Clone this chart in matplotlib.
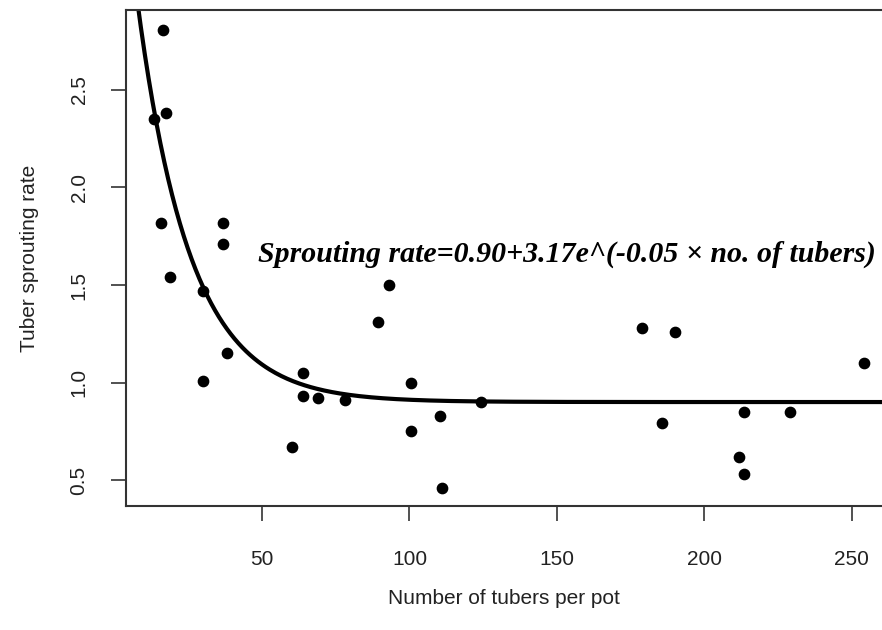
import numpy as np
import matplotlib.pyplot as plt

# number of tubers per pot vs sprouting rate
tubers = [16.4, 17.5, 13.4, 15.8, 36.8, 36.8, 18.8, 30.0, 30.0, 38.0,
          63.8, 63.8, 69.1, 78.2, 60.1, 89.2, 93.1, 100.4, 100.4, 110.3,
          110.9, 124.1, 178.7, 189.9, 185.6, 213.5, 229.0, 211.6, 213.5, 254.0]
rate = [2.81, 2.38, 2.35, 1.82, 1.82, 1.71, 1.54, 1.47, 1.01, 1.15,
        1.05, 0.93, 0.92, 0.91, 0.67, 1.31, 1.50, 1.00, 0.75, 0.83,
        0.46, 0.90, 1.28, 1.26, 0.79, 0.85, 0.85, 0.62, 0.53, 1.10]

# fitted curve parameters
a, b, k = 0.90, 3.17, 0.056
label = "Sprouting rate=0.90+3.17e^(-0.05 \u00d7 no. of tubers)"

fig = plt.figure(figsize=(8.82, 6.3), dpi=100)
ax = fig.add_axes([126/882, 1-506/630, 1-126/882, (506-10)/630])

xs = np.linspace(1, 265, 400)
ax.plot(xs, a + b*np.exp(-k*xs), color='black', lw=3.0)
ax.scatter(tubers, rate, s=55, color='black', zorder=3)

ax.set_xlim(3.9, 260.2)
ax.set_ylim(0.367, 2.91)
ax.set_xticks([50, 100, 150, 200, 250])
ax.set_yticks([0.5, 1.0, 1.5, 2.0, 2.5])

for s in ['left', 'bottom', 'top']:
    ax.spines[s].set_linewidth(1.5)
    ax.spines[s].set_color('#333333')
ax.spines['right'].set_visible(False)

ax.tick_params(length=11, width=1.2, color='#333333', labelsize=15)
ax.tick_params(axis='x', pad=21)
ax.tick_params(axis='y', pad=16)
for t in ax.get_xticklabels() + ax.get_yticklabels():
    t.set_family('Liberation Sans')
    t.set_color('#222222')
for t in ax.get_yticklabels():
    t.set_rotation(90)
    t.set_va('center')

ax.set_xlabel("Number of tubers per pot", family='Liberation Sans', fontsize=15,
              color='#222222', labelpad=14)
ax.set_ylabel("Tuber sprouting rate", family='Liberation Sans', fontsize=15,
              color='#222222', labelpad=22)

ax.text(48.5, 1.655, label, family='Liberation Serif', fontsize=21.5,
        fontweight='bold', fontstyle='italic', va='center', ha='left')

fig.savefig('out.png', dpi=100)
